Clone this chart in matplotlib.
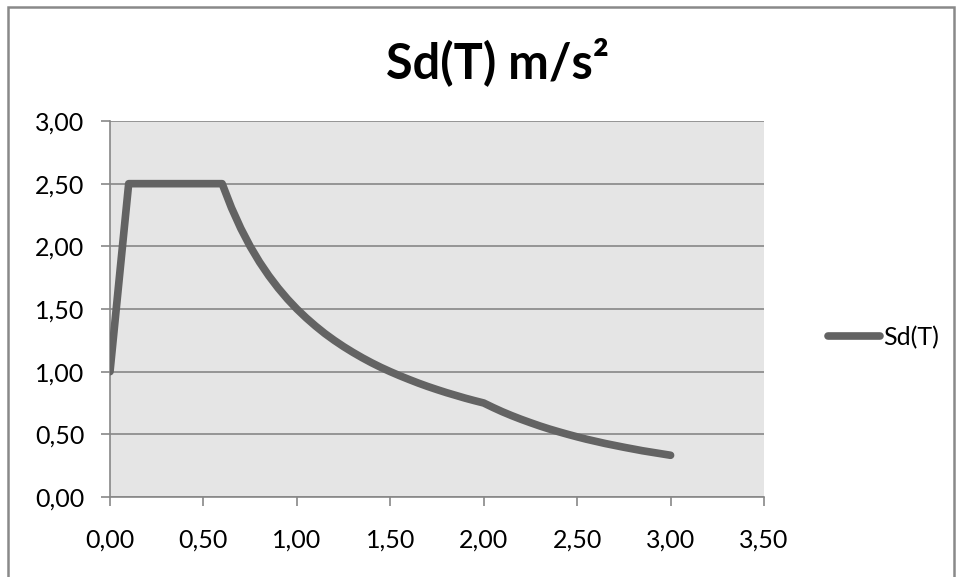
import matplotlib
matplotlib.use("Agg")
import matplotlib.pyplot as plt
from matplotlib.patches import Rectangle

# periods T (s) and spectral values Sd(T)
periods = [0.00, 0.10, 0.20, 0.30, 0.40, 0.50, 0.60,
           0.65, 0.70, 0.75, 0.80, 0.85, 0.90, 0.95, 1.00,
           1.05, 1.10, 1.15, 1.20, 1.25, 1.30, 1.35, 1.40, 1.45, 1.50,
           1.55, 1.60, 1.65, 1.70, 1.75, 1.80, 1.85, 1.90, 1.95, 2.00,
           2.05, 2.10, 2.15, 2.20, 2.25, 2.30, 2.35, 2.40, 2.45, 2.50,
           2.55, 2.60, 2.65, 2.70, 2.75, 2.80, 2.85, 2.90, 2.95, 3.00]
sd_values = [1.000, 2.500, 2.500, 2.500, 2.500, 2.500, 2.500,
             2.308, 2.143, 2.000, 1.875, 1.765, 1.667, 1.579, 1.500,
             1.429, 1.364, 1.304, 1.250, 1.200, 1.154, 1.111, 1.071, 1.034, 1.000,
             0.968, 0.938, 0.909, 0.882, 0.857, 0.833, 0.811, 0.789, 0.769, 0.750,
             0.714, 0.680, 0.649, 0.620, 0.593, 0.567, 0.543, 0.521, 0.500, 0.480,
             0.461, 0.444, 0.427, 0.412, 0.397, 0.383, 0.369, 0.357, 0.345, 0.333]
x_ticks = [0.0, 0.5, 1.0, 1.5, 2.0, 2.5, 3.0, 3.5]
y_ticks = [0.0, 0.5, 1.0, 1.5, 2.0, 2.5, 3.0]
series_name = "Sd(T)"
title = "Sd(T) m/s²"

plt.rcParams['font.family'] = ['Lato', 'DejaVu Sans']

fig = plt.figure(figsize=(9.56, 5.77), dpi=100)
ax = fig.add_axes([110/956, 80/577, 654/956, 376/577])

grey = '#878787'
ax.set_facecolor('#e5e5e5')
ax.plot(periods, sd_values, color='#636363', lw=5.5, solid_capstyle='round',
        solid_joinstyle='round', label=series_name, zorder=3)

ax.set_xlim(0, 3.5)
ax.set_ylim(0, 3.0)
ax.set_xticks(x_ticks)
ax.set_yticks(y_ticks)
fmt = lambda v: f"{v:.2f}".replace('.', ',')
ax.set_xticklabels([fmt(v) for v in x_ticks])
ax.set_yticklabels([fmt(v) for v in y_ticks])
ax.tick_params(labelsize=18, length=6.5, width=1.2, color=grey)
ax.tick_params(axis='y', pad=12)
ax.tick_params(axis='x', pad=16)
ax.grid(axis='y', color=grey, lw=1.2)
ax.set_axisbelow(True)
for s in ['top', 'right']:
    ax.spines[s].set_visible(False)
for s in ['left', 'bottom']:
    ax.spines[s].set_color(grey)
    ax.spines[s].set_linewidth(1.2)

fig.text(497/956, 1 - 62/577, title, ha='center', va='center',
         fontsize=35, fontweight='bold')

leg = ax.legend(loc='center left', bbox_to_anchor=(1.063, 0.425), frameon=False,
                fontsize=18, handlelength=2.1, handletextpad=0.12)

fig.patches.append(Rectangle((8/956, -0.1), 946/956, 1.1 - 7/577,
                             transform=fig.transFigure, fill=False,
                             edgecolor='#898989', lw=1.8))

fig.savefig('out.png', dpi=100)
